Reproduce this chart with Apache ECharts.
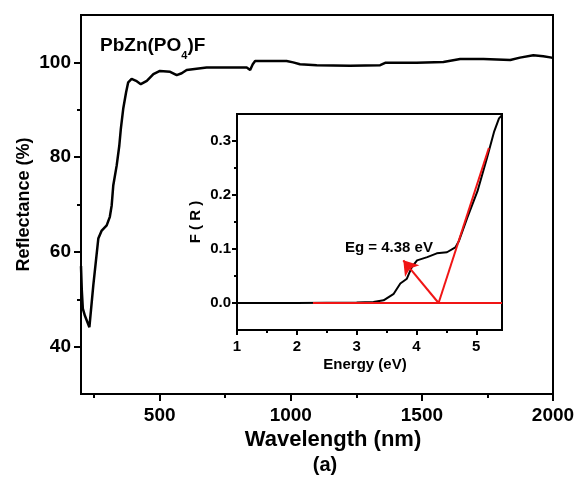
<!DOCTYPE html>
<html>
<head>
<meta charset="utf-8">
<script src="https://cdn.jsdelivr.net/npm/echarts@6/dist/echarts.min.js"></script>
<style>html,body{margin:0;padding:0;background:#fff}#c{width:580px;height:480px}</style>
</head>
<body>
<div id="c"></div>
<script>
// ---- Main spectrum (reflectance vs wavelength) ----
var mainWavelength = [200,203,207,215,232,247,266,279,298,310,317,323,336,346,352,361,372,380,393,410,428,451,476,501,540,565,584,603,679,755,832,845,855,864,984,1009,1035,1099,1226,1341,1360,1480,1582,1646,1735,1837,1874,1925,1963,1995,2000];
var mainReflectance = [57,52,48,46.5,44.1,53,62.8,64.5,65.6,67.4,69.8,74,78.2,82.4,86,90.2,93.7,95.8,96.5,96.1,95.4,96.1,97.5,98.2,98.0,97.3,97.7,98.4,98.9,98.9,98.9,98.4,99.6,100.3,100.3,100,99.6,99.4,99.3,99.4,99.9,99.9,100.1,100.7,100.7,100.5,101,101.5,101.3,101,100.9];
var mainXLabels = [500,1000,1500,2000];
var mainXMinor = [250,750,1250,1750];
var mainYLabels = [40,60,80,100];
var mainYMinor = [50,70,90];

// ---- Inset (F(R) vs energy) ----
var insetEnergy = [1.0,2.0,3.0,3.28,3.45,3.62,3.73,3.84,3.92,4.01,4.18,4.34,4.51,4.65,4.71,4.85,5.02,5.18,5.30,5.38,5.43];
var insetFR = [0,0,0.001,0.002,0.005,0.017,0.036,0.045,0.066,0.079,0.085,0.092,0.094,0.103,0.115,0.158,0.207,0.269,0.318,0.342,0.348];
var baselineE = [2.27,5.43];
var baselineFR = [0,0];
var tangentE = [4.37,5.21];
var tangentFR = [0,0.287];
var arrowE = [4.37,3.78];
var arrowFR = [0,0.079];
var egLabelE = [3.54];
var egLabelFR = [0.103];
var egText = 'Eg = 4.38 eV';
var insetXLabels = [1,2,3,4,5];
var insetXMinor = [1.5,2.5,3.5,4.5];
var insetYLabels = [0,0.1,0.2,0.3];
var insetYMinor = [0.05,0.15,0.25];

var FONT = '"Liberation Sans", Arial, sans-serif';
function zip(a,b){return a.map(function(v,i){return [v,b[i]];});}

function axis(opts){
  var a = {
    type:'value', gridIndex:opts.grid, position:opts.pos, min:opts.min, max:opts.max,
    splitLine:{show:false},
    axisLine:{show:!opts.minor, onZero:false, lineStyle:{color:'#000',width:2}},
    axisTick:{show:true, inside:false, length:opts.tickLen, customValues:opts.ticks, lineStyle:{color:'#000',width:2}},
    axisLabel:{show:!opts.minor, customValues:opts.labels, margin:opts.margin, color:'#000', fontSize:opts.fs, fontWeight:'bold', fontFamily:FONT,
      formatter:opts.fmt || function(v){return String(v);}},
    silent:true
  };
  if(opts.name){
    a.name = opts.name; a.nameLocation='middle'; a.nameGap=opts.nameGap;
    a.nameMoveOverlap = false;
    a.nameTextStyle = opts.nameStyle;
  }
  return a;
}

var chart = echarts.init(document.getElementById('c'), null, {renderer:'canvas'});
chart.setOption({
  animation:false,
  backgroundColor:'#fff',
  title:{
    left:100, top:30, padding:0,
    text:'{a|PbZn(PO}{s|4}{a|)F}',
    textStyle:{rich:{
      a:{fontSize:19,fontWeight:'bold',fontFamily:FONT,color:'#000'},
      s:{fontSize:11,fontWeight:'bold',fontFamily:FONT,color:'#000',padding:[20,0,0,0]}
    }}
  },
  grid:[
    {left:81,right:27,top:15,bottom:84,show:true,borderColor:'#000',borderWidth:2,backgroundColor:'rgba(0,0,0,0)'},
    {left:237,right:78,top:114,bottom:150,show:true,borderColor:'#000',borderWidth:2,backgroundColor:'#fff'}
  ],
  xAxis:[
    axis({grid:0,pos:'bottom',min:200,max:2000,tickLen:7,ticks:mainXLabels,labels:mainXLabels,margin:12,fs:19,
      name:'{t|Wavelength (nm)}\n{a|(a)}', nameGap:33,
      nameStyle:{rich:{
        t:{fontSize:22,fontWeight:'bold',fontFamily:FONT,color:'#000',lineHeight:26,padding:[0,0,0,32]},
        a:{fontSize:20,fontWeight:'bold',fontFamily:FONT,color:'#000',lineHeight:24,padding:[0,0,0,16]}
      }}}),
    axis({grid:0,pos:'bottom',min:200,max:2000,tickLen:4,ticks:mainXMinor,minor:true}),
    axis({grid:1,pos:'bottom',min:1,max:5.43,tickLen:5,ticks:insetXLabels,labels:insetXLabels,margin:9,fs:15,
      name:'Energy (eV)', nameGap:27,
      nameStyle:{fontSize:15,fontWeight:'bold',fontFamily:FONT,color:'#000',padding:[0,9,0,0]}}),
    axis({grid:1,pos:'bottom',min:1,max:5.43,tickLen:3,ticks:insetXMinor,minor:true})
  ],
  yAxis:[
    axis({grid:0,pos:'left',min:30,max:110,tickLen:7,ticks:mainYLabels,labels:mainYLabels,margin:10,fs:19,
      name:'Reflectance (%)', nameGap:48,
      nameStyle:{fontSize:18,fontWeight:'bold',fontFamily:FONT,color:'#000'}}),
    axis({grid:0,pos:'left',min:30,max:110,tickLen:4,ticks:mainYMinor,minor:true}),
    axis({grid:1,pos:'left',min:-0.05,max:0.35,tickLen:5,ticks:insetYLabels,labels:insetYLabels,margin:6,fs:15,
      fmt:function(v){return v.toFixed(1);},
      name:'F ( R )', nameGap:34,
      nameStyle:{fontSize:15,fontWeight:'bold',fontFamily:FONT,color:'#000'}}),
    axis({grid:1,pos:'left',min:-0.05,max:0.35,tickLen:3,ticks:insetYMinor,minor:true})
  ],
  series:[
    {type:'line',xAxisIndex:0,yAxisIndex:0,data:zip(mainWavelength,mainReflectance),symbol:'none',silent:true,
      lineStyle:{color:'#000',width:2.5}},
    {type:'line',xAxisIndex:2,yAxisIndex:2,data:zip(insetEnergy,insetFR),symbol:'none',silent:true,
      lineStyle:{color:'#000',width:2}},
    {type:'line',xAxisIndex:2,yAxisIndex:2,data:zip(baselineE,baselineFR),symbol:'none',silent:true,
      lineStyle:{color:'#f01515',width:2}},
    {type:'line',xAxisIndex:2,yAxisIndex:2,data:zip(tangentE,tangentFR),symbol:'none',silent:true,
      lineStyle:{color:'#f01515',width:2},
      markLine:{silent:true,symbol:['none','arrow'],symbolSize:14,label:{show:false},
        lineStyle:{color:'#f01515',width:2,type:'solid'},
        data:[[{coord:[arrowE[0],arrowFR[0]]},{coord:[arrowE[1],arrowFR[1]]}]]}},
    {type:'scatter',xAxisIndex:2,yAxisIndex:2,data:zip(egLabelE,egLabelFR),symbolSize:0,silent:true,
      itemStyle:{color:'#000',opacity:1},
      label:{show:true,position:'inside',formatter:egText,color:'#000',opacity:1,textBorderWidth:0,textBorderColor:'transparent',fontSize:15,fontWeight:'bold',fontFamily:FONT}}
  ]
});
</script>
</body>
</html>
